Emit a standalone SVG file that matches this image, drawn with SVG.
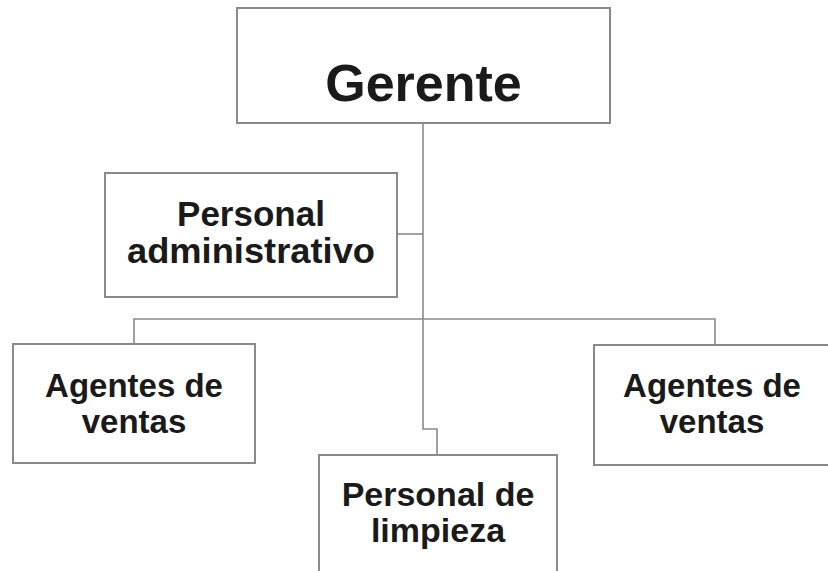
<svg xmlns="http://www.w3.org/2000/svg" width="828" height="571" viewBox="0 0 828 571">
<style>
.box{fill:#fff;stroke:#8a8a8a;stroke-width:2}
.ln{fill:none;stroke:#8a8a8a;stroke-width:1.6}
text{font-family:"Liberation Sans",Arial,sans-serif;font-weight:bold;fill:#1a1a1a;text-anchor:middle}
</style>
<rect width="828" height="571" fill="#fff"/>
<g id="connectors">
<path class="ln" d="M423,123 V429 H437 V455"/>
<path class="ln" d="M397,234 H423"/>
<path class="ln" d="M134,344 V319 H715 V345"/>
</g>
<g id="gerente">
<rect class="box" x="237" y="8" width="373" height="115"/>
<text x="423.5" y="101" font-size="52">Gerente</text>
</g>
<g id="personal-administrativo">
<rect class="box" x="105" y="173" width="292" height="124"/>
<text x="251" y="226" font-size="35">Personal</text>
<text x="251" y="263" font-size="35" textLength="248" lengthAdjust="spacingAndGlyphs">administrativo</text>
</g>
<g id="agentes-izq">
<rect class="box" x="13" y="344" width="242" height="119"/>
<text x="134" y="397" font-size="33">Agentes de</text>
<text x="134" y="433" font-size="33">ventas</text>
</g>
<g id="agentes-der">
<rect class="box" x="594" y="345" width="240" height="120"/>
<text x="712" y="397" font-size="33">Agentes de</text>
<text x="712" y="433" font-size="33">ventas</text>
</g>
<g id="personal-limpieza">
<rect class="box" x="319" y="455" width="238" height="130"/>
<text x="438" y="506" font-size="34">Personal de</text>
<text x="438" y="542" font-size="34">limpieza</text>
</g>
</svg>
